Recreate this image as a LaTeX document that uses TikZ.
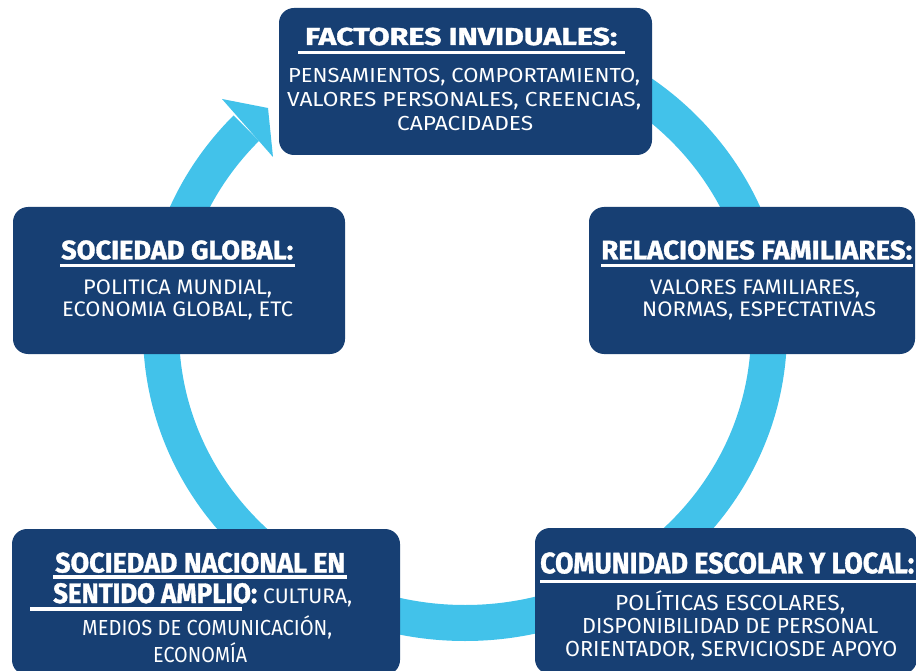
\documentclass[tikz,border=0pt]{standalone}
\usepackage{fontspec}
\usepackage{graphicx}
\setmainfont{Fira Sans}
\newfontfamily\hdrfont[FakeBold=1.2]{Fira Sans}
\definecolor{boxblue}{HTML}{173F73}
\definecolor{ringblue}{HTML}{42C2EA}
\newcommand\fitline[3]{\resizebox{#1pt}{#2pt}{\smash{#3}\vphantom{H}}}
\begin{document}
\begin{tikzpicture}[x=1pt,y=-1pt,
  box/.style={fill=boxblue, draw=none, rounded corners=15pt, inner sep=0pt, rectangle},
  txt/.style={text=white, inner sep=0pt, anchor=base west},
  hdr/.style={txt, font=\hdrfont\bfseries},
  body/.style={txt, font=\rmfamily},
  uline/.style={white, line width=3.5pt}]
\useasboundingbox (0,0) rectangle (916,671);
\clip (0,0) rectangle (916,671);
% ring with arrow
\coordinate (rs) at (465,39);
\draw[ringblue, line width=36pt] (rs) arc[start angle=-90, end angle=224, x radius=304, y radius=292] coordinate (re);
\coordinate (w1) at (222,99);
\coordinate (tip) at (268,108);
\coordinate (w2) at (273,157);
\fill[ringblue] (w1) -- (tip) -- (w2) -- cycle;
% boxes
\node[box, minimum width=373pt, minimum height=147pt] (bTop) at (465.5,81.5) {};
\node[box, minimum width=326pt, minimum height=147pt] (bRight) at (752,280.5) {};
\node[box, minimum width=332pt, minimum height=147pt] (bLeft) at (179,280.5) {};
\node[box, minimum width=388pt, minimum height=146pt] (bBL) at (206,602) {};
\node[box, minimum width=382pt, minimum height=146pt] (bBR) at (726,601) {};
% top box text
\node[hdr] (tH) at (305,45) {\fitline{312}{17}{FACTORES INVIDUALES:}};
\draw[uline] (298,52.3) -- (625,52.3);
\node[body] (t1) at (288,82.5) {\fitline{352}{14}{PENSAMIENTOS, COMPORTAMIENTO,}};
\node[body] (t2) at (287,106.5) {\fitline{354}{14}{VALORES PERSONALES, CREENCIAS,}};
\node[body] (t3) at (397,130.5) {\fitline{136}{14}{CAPACIDADES}};
% right box text
\node[hdr] (rH) at (601,259.3) {\fitline{311}{18.5}{RELACIONES FAMILIARES:}};
\draw[uline] (601,265.7) -- (913,265.7);
\node[body] (r1) at (650,294.3) {\fitline{210}{14.5}{VALORES FAMILIARES,}};
\node[body] (r2) at (642,316.7) {\fitline{234}{14.5}{NORMAS, ESPECTATIVAS}};
% left box text
\node[hdr] (lH) at (61,259.3) {\fitline{232}{18.5}{SOCIEDAD GLOBAL:}};
\draw[uline] (60,265.7) -- (295,265.7);
\node[body] (l1) at (83,294.3) {\fitline{189}{14.5}{POLITICA MUNDIAL,}};
\node[body] (l2) at (62,316.7) {\fitline{231}{14.5}{ECONOMIA GLOBAL, ETC}};
% bottom-left box text
\node[hdr] (blH1) at (55,572.5) {\fitline{290}{19.5}{SOCIEDAD NACIONAL EN}};
\draw[uline] (53,577) -- (347,577);
\node[hdr] (blH2) at (53,603) {\fitline{204}{19.5}{SENTIDO AMPLIO:}};
\node[body] (blH2b) at (263,603) {\fitline{89}{14.5}{CULTURA,}};
\draw[uline] (30,609) -- (242,609);
\node[body] (bl1) at (82,635) {\fitline{250}{15}{MEDIOS DE COMUNICACIÓN,}};
\node[body] (bl2) at (153,662) {\fitline{94}{15}{ECONOMÍA}};
% bottom-right box text
\node[hdr] (brH) at (540,573.3) {\fitline{374}{20.5}{COMUNIDAD ESCOLAR Y LOCAL:}};
\draw[uline] (540,581.7) -- (916,581.7);
\node[body] (br1) at (615,610) {\fitline{230}{15}{POLÍTICAS ESCOLARES,}};
\node[body] (br2) at (582,633.3) {\fitline{296}{15}{DISPONIBILIDAD DE PERSONAL}};
\node[body] (br3) at (565,656.7) {\fitline{332}{15}{ORIENTADOR, SERVICIOSDE APOYO}};
\end{tikzpicture}
\end{document}
